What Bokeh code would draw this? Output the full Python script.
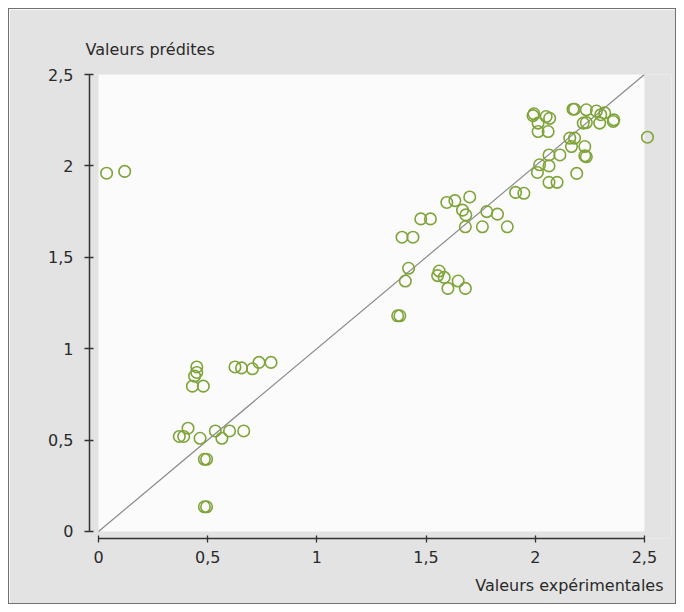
from bokeh.plotting import figure
from bokeh.models import Range1d, FixedTicker, BoxAnnotation, Title
from bokeh.embed import file_html
from bokeh.resources import INLINE

# --- data ---
exp_values = [
    0.037, 0.12,
    0.45, 0.45, 0.44, 0.43, 0.48,
    0.625, 0.655, 0.705, 0.735, 0.79,
    0.37, 0.39, 0.41, 0.465, 0.535, 0.565, 0.60, 0.665,
    0.485, 0.495, 0.485, 0.495,
    1.37, 1.38, 1.42, 1.405, 1.56, 1.553, 1.583, 1.60, 1.647, 1.68,
    1.39, 1.44, 1.476, 1.52, 1.595, 1.632, 1.70, 1.667, 1.682, 1.68,
    1.778, 1.827, 1.758, 1.872, 1.91, 1.948,
    2.01, 2.02, 2.063, 2.063, 2.113, 2.063, 2.10, 2.19,
    2.158, 2.18, 2.166, 2.227, 2.227, 2.234,
    2.013, 2.059,
    1.99, 1.994, 2.05, 2.066, 2.013,
    2.173, 2.18, 2.234, 2.28, 2.30, 2.318,
    2.22, 2.234, 2.295, 2.357, 2.36,
    2.514,
]
pred_values = [
    1.96, 1.97,
    0.90, 0.87, 0.85, 0.795, 0.795,
    0.90, 0.895, 0.89, 0.925, 0.925,
    0.52, 0.52, 0.565, 0.51, 0.55, 0.51, 0.55, 0.55,
    0.395, 0.395, 0.135, 0.135,
    1.18, 1.18, 1.44, 1.37, 1.425, 1.40, 1.39, 1.33, 1.37, 1.33,
    1.61, 1.61, 1.71, 1.71, 1.80, 1.81, 1.83, 1.758, 1.732, 1.667,
    1.75, 1.736, 1.667, 1.667, 1.855, 1.85,
    1.964, 2.006, 2.0, 2.06, 2.06, 1.91, 1.91, 1.959,
    2.152, 2.152, 2.106, 2.106, 2.055, 2.05,
    2.188, 2.188,
    2.275, 2.285, 2.27, 2.26, 2.234,
    2.31, 2.31, 2.307, 2.30, 2.28, 2.29,
    2.234, 2.237, 2.234, 2.243, 2.252,
    2.157,
]
identity_line = [0, 2.5]
tick_values = [0, 0.5, 1, 1.5, 2, 2.5]
tick_labels = ["0", "0,5", "1", "1,5", "2", "2,5"]
x_title = "Valeurs expérimentales"
y_title = "Valeurs prédites"

FONT = "DejaVu Sans"
PANEL = "#e3e3e3"
TEXT = "#2a2a2a"

p = figure(
    width=668, height=596,
    output_backend="svg", toolbar_location=None,
    x_range=Range1d(-0.0412, 2.624), y_range=Range1d(-0.0383, 2.5),
    min_border_left=80, min_border_right=6, min_border_top=65, min_border_bottom=67,
    background_fill_color=PANEL, border_fill_color=PANEL,
)
p.styles = {"border": "1px solid #707070", "margin-left": "8px", "margin-top": "8px"}
p.outline_line_color = None
p.grid.visible = False

# white plotting area
p.add_layout(BoxAnnotation(left=identity_line[0], right=identity_line[1],
                           bottom=identity_line[0], top=identity_line[1],
                           fill_color="#fbfbfb", fill_alpha=1.0,
                           line_color=None, level="underlay"))

p.line(identity_line, identity_line, line_color="#8a8a8a", line_width=1.2)
p.scatter(exp_values, pred_values, marker="circle", size=11.5,
          fill_color=None, line_color="#7fa43a", line_width=1.6)

labels = {v: t for v, t in zip(tick_values, tick_labels)}
for ax in (p.xaxis[0], p.yaxis[0]):
    ax.ticker = FixedTicker(ticks=tick_values)
    ax.major_label_overrides = labels
    ax.bounds = (tick_values[0], tick_values[-1])
    ax.axis_line_color = "#333333"
    ax.axis_line_width = 1.5
    ax.major_tick_line_color = "#333333"
    ax.major_tick_line_width = 1.3
    ax.minor_tick_line_color = None
    ax.major_label_text_font = FONT
    ax.major_label_text_font_size = "16px"
    ax.major_label_text_color = TEXT

p.xaxis[0].major_tick_in = 3
p.xaxis[0].major_tick_out = 4
p.xaxis[0].major_label_standoff = 8
p.yaxis[0].major_tick_in = 4
p.yaxis[0].major_tick_out = 5
p.yaxis[0].major_label_standoff = 11

p.title.text = y_title
p.title.align = "left"
p.title.offset = -4
p.title.standoff = 32
p.title.text_font = FONT
p.title.text_font_size = "16px"
p.title.text_font_style = "normal"
p.title.text_color = TEXT

p.add_layout(Title(text=x_title, align="right", offset=8, standoff=16, text_font=FONT,
                   text_font_size="16px", text_font_style="normal",
                   text_color=TEXT), "below")

open("out.html", "w").write(file_html(p, INLINE))
